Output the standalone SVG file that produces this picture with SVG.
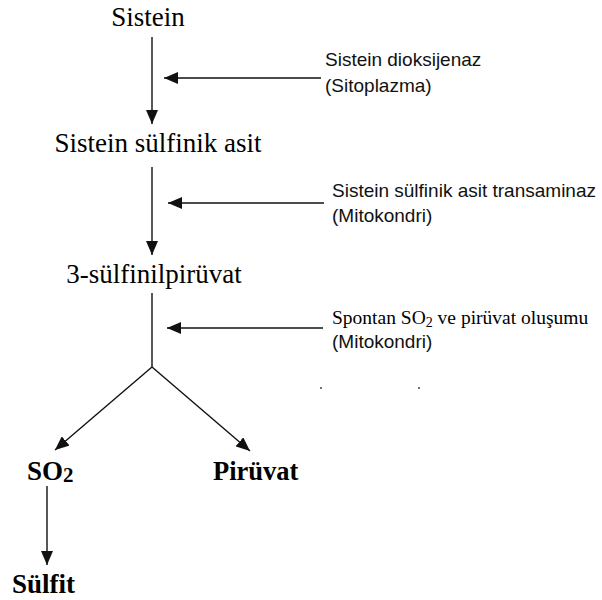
<svg xmlns="http://www.w3.org/2000/svg" width="602" height="600" viewBox="0 0 602 600">
<style>
.t{font-family:"Liberation Serif","Times New Roman",serif;fill:#000}
.b{font-family:"Liberation Serif","Times New Roman",serif;font-weight:bold;fill:#000}
.a{font-family:"Liberation Sans",Arial,sans-serif;font-size:19px;fill:#111}
.ln{stroke:#111;stroke-width:1.4;fill:none}
</style>
<defs>
<marker id="ah" markerUnits="userSpaceOnUse" markerWidth="14" markerHeight="12" refX="14" refY="6" orient="auto">
<path d="M0,0 L14,6 L0,12 z" fill="#111"/>
</marker>
</defs>
<rect width="602" height="600" fill="#fff"/>
<g id="connectors">
<line class="ln" x1="152" y1="37" x2="152" y2="124" marker-end="url(#ah)"/>
<line class="ln" x1="321" y1="78" x2="164" y2="78" marker-end="url(#ah)"/>
<line class="ln" x1="152" y1="167" x2="152" y2="255" marker-end="url(#ah)"/>
<line class="ln" x1="324" y1="203" x2="168" y2="203" marker-end="url(#ah)"/>
<line class="ln" x1="152" y1="293" x2="152" y2="367"/>
<line class="ln" x1="323" y1="328" x2="167" y2="328" marker-end="url(#ah)"/>
<line class="ln" x1="152" y1="367" x2="55" y2="450" marker-end="url(#ah)"/>
<line class="ln" x1="152" y1="367" x2="250" y2="451" marker-end="url(#ah)"/>
<line class="ln" x1="47" y1="486" x2="47" y2="565" marker-end="url(#ah)"/>
</g>
<g id="n-sistein"><text class="t" x="148" y="26" font-size="27" text-anchor="middle">Sistein</text></g>
<g id="n-ssa"><text class="t" x="158" y="152" font-size="27" text-anchor="middle">Sistein sülfinik asit</text></g>
<g id="n-3sp"><text class="t" x="154" y="283" font-size="27" text-anchor="middle">3-sülfinilpirüvat</text></g>
<g id="n-so2"><text class="b" x="27" y="480" font-size="27">SO<tspan font-size="21" dy="2">2</tspan></text></g>
<g id="n-piruvat"><text class="b" x="213" y="480" font-size="26.5">Pirüvat</text></g>
<g id="n-sulfit"><text class="b" x="12" y="593" font-size="27">Sülfit</text></g>
<g id="l-enz1"><text class="a" x="325" y="66">Sistein dioksijenaz</text><text class="a" x="325" y="92">(Sitoplazma)</text></g>
<g id="l-enz2"><text class="a" x="332" y="197">Sistein sülfinik asit transaminaz</text><text class="a" x="332" y="222">(Mitokondri)</text></g>
<g id="l-enz3"><text class="t" x="332" y="324" font-size="19.5">Spontan SO<tspan font-size="14" baseline-shift="-3">2</tspan> ve pirüvat oluşumu</text><text class="a" x="332" y="348">(Mitokondri)</text></g>
<g id="dots"><circle cx="321" cy="388" r="0.9" fill="#333"/><circle cx="419" cy="388" r="0.9" fill="#333"/></g>
</svg>
